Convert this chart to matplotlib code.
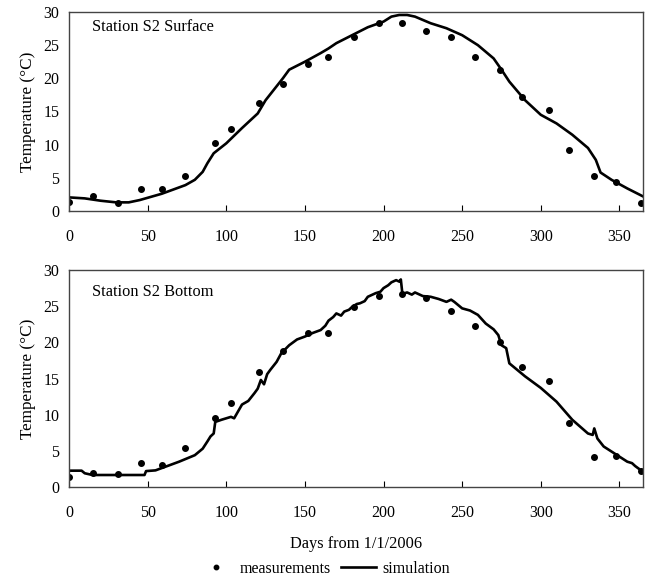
import numpy as np
import matplotlib
matplotlib.use('Agg')
import matplotlib.pyplot as plt

plt.rcParams['font.family'] = ['Liberation Serif', 'DejaVu Serif']

meas_day = [0, 15, 31, 46, 59, 74, 93, 103, 121, 136, 152, 165,
            181, 197, 212, 227, 243, 258, 274, 288, 305, 318, 334, 348, 364]
surf_meas = [1.3, 2.2, 1.25, 3.3, 3.3, 5.2, 10.2, 12.3, 16.3, 19.2, 22.2, 23.2,
             26.2, 28.4, 28.3, 27.1, 26.2, 23.2, 21.2, 17.2, 15.2, 9.25, 5.2, 4.3, 1.25]
bot_meas = [1.4, 2.0, 1.75, 3.3, 3.0, 5.4, 9.5, 11.6, 15.9, 18.8, 21.3, 21.3,
            24.9, 26.4, 26.7, 26.1, 24.4, 22.2, 20.1, 16.6, 14.6, 8.9, 4.2, 4.3, 2.25]

# simulation, surface
surf_day = [0, 10, 20, 30, 38, 45, 59, 74, 80, 85, 88, 92, 100, 110, 120, 125, 130,
            136, 140, 150, 160, 165, 170, 180, 190, 200, 205, 210, 215, 220, 230,
            240, 250, 260, 265, 270, 275, 280, 290, 300, 310, 320, 330, 335, 338,
            345, 355, 365]
surf_sim = [2.05, 1.9, 1.55, 1.3, 1.3, 1.65, 2.6, 3.9, 4.7, 5.9, 7.2, 8.7, 10.2,
            12.5, 14.7, 16.7, 18.2, 20.0, 21.3, 22.5, 23.8, 24.5, 25.3, 26.5, 27.7,
            28.55, 29.3, 29.55, 29.55, 29.3, 28.3, 27.55, 26.5, 25.0, 24.0, 23.0,
            21.3, 19.5, 16.7, 14.5, 13.2, 11.5, 9.5, 7.7, 5.8, 4.7, 3.4, 2.2]

# simulation, bottom
bot_day = [0, 8, 10, 15, 30, 45, 48, 49, 55, 60, 70, 80, 85, 88, 90, 92, 93, 97,
           100, 103, 105, 110, 114, 118, 120, 122, 124, 126, 128, 132, 135, 140,
           145, 150, 155, 160, 163, 165, 168, 170, 173, 175, 178, 180, 183, 185,
           188, 190, 195, 198, 200, 203, 205, 208, 210, 211, 212, 215, 218, 220,
           225, 230, 235, 240, 243, 245, 250, 255, 260, 265, 270, 273, 275, 278,
           280, 285, 290, 300, 310, 320, 330, 333, 334, 336, 340, 345, 350, 355,
           358, 360, 365]
bot_sim = [2.26, 2.26, 1.9, 1.66, 1.66, 1.66, 1.66, 2.2, 2.3, 2.7, 3.5, 4.4, 5.3,
           6.3, 7.0, 7.4, 9.0, 9.3, 9.5, 9.7, 9.5, 11.4, 11.9, 13.0, 13.6, 14.8,
           14.2, 15.6, 16.2, 17.3, 18.5, 19.6, 20.4, 20.8, 21.3, 21.7, 22.3, 23.0,
           23.5, 24.0, 23.7, 24.25, 24.5, 24.9, 25.3, 25.4, 25.7, 26.3, 26.8, 27.0,
           27.5, 27.9, 28.3, 28.6, 28.4, 28.7, 26.7, 26.9, 26.6, 26.9, 26.4, 26.3,
           26.0, 25.6, 25.9, 25.6, 24.7, 24.4, 23.8, 22.6, 21.8, 21.0, 19.6, 19.2,
           17.1, 16.2, 15.3, 13.7, 11.8, 9.3, 7.4, 7.2, 8.1, 6.7, 5.6, 4.9, 4.2,
           3.5, 3.3, 2.9, 2.1]

fig = plt.figure(figsize=(6.48, 5.76), dpi=100)
ax1 = fig.add_axes([0.1065, 0.6337, 0.8858, 0.3455])
ax2 = fig.add_axes([0.1065, 0.1545, 0.8858, 0.3767])

panels = [(ax1, surf_day, surf_sim, surf_meas, 'Station S2 Surface', 0.925),
          (ax2, bot_day, bot_sim, bot_meas, 'Station S2 Bottom', 0.90)]

for ax, d, sim, meas, title, ty in panels:
    ax.plot(d, sim, color='black', lw=1.9, label='simulation')
    ax.plot(meas_day, meas, 'o', color='black', ms=4, label='measurements')
    ax.set_xlim(0, 365)
    ax.set_ylim(0, 30)
    ax.set_xticks(np.arange(0, 351, 50))
    ax.set_yticks(np.arange(0, 31, 5))
    ax.tick_params(axis='x', direction='in', length=4, labelsize=11.5, pad=13)
    ax.tick_params(axis='y', length=0, labelsize=11.5, pad=7)
    for s in ax.spines.values():
        s.set_color('#444444')
        s.set_linewidth(1.0)
    ax.set_ylabel('Temperature (°C)', fontsize=12.3, labelpad=5)
    ax.text(0.04, ty, title, transform=ax.transAxes, fontsize=11.8, va='center')

ax2.set_xlabel('Days from 1/1/2006', fontsize=11.8, labelpad=11)

handles, labels = ax2.get_legend_handles_labels()
fig.legend(handles[::-1], labels[::-1], loc='center', bbox_to_anchor=(0.5, 0.013),
           ncol=2, frameon=False, fontsize=11.5, handlelength=2.2,
           columnspacing=0.6, handletextpad=0.4, markerscale=0.8)

fig.savefig('out.png', dpi=100)
